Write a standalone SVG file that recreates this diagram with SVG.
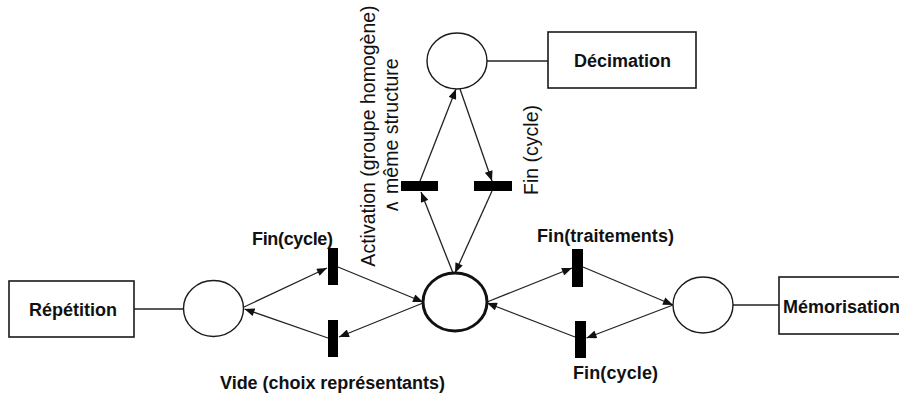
<svg xmlns="http://www.w3.org/2000/svg" width="899" height="396" viewBox="0 0 899 396">
<style>
.place{fill:#fff;stroke:#1a1a1a;stroke-width:1.4}
.main{fill:#fff;stroke:#111;stroke-width:3}
.box{fill:#fff;stroke:#1a1a1a;stroke-width:1.6}
.tr{fill:#000}
.lbl{font-family:"Liberation Sans",Arial,sans-serif;font-weight:bold;font-size:18px;fill:#111}
.rot{font-family:"Liberation Sans",Arial,"DejaVu Sans",sans-serif;font-size:19.5px;fill:#111}
.arc{stroke:#222;stroke-width:1.3;fill:none;marker-end:url(#ah)}
.link{stroke:#222;stroke-width:1.3;fill:none}
</style>
<defs>
<marker id="ah" viewBox="0 0 10 8" refX="10" refY="4" markerWidth="11" markerHeight="8" markerUnits="userSpaceOnUse" orient="auto">
<path d="M0,0 L10,4 L0,8 z" fill="#111"/>
</marker>
</defs>
<rect width="899" height="396" fill="#fff"/>

<g id="connectors">
<line class="link" x1="134" y1="309" x2="183.5" y2="309"/>
<line class="link" x1="487" y1="61" x2="548" y2="61"/>
<line class="link" x1="733" y1="305" x2="779" y2="305"/>
<line class="arc" x1="453" y1="273" x2="421" y2="192"/>
<line class="arc" x1="420" y1="181" x2="456" y2="89"/>
<line class="arc" x1="460" y1="89" x2="492" y2="181"/>
<line class="arc" x1="492" y1="191" x2="455" y2="273"/>
<line class="arc" x1="244" y1="307" x2="327" y2="268"/>
<line class="arc" x1="338" y1="267" x2="423" y2="302"/>
<line class="arc" x1="423" y1="303" x2="339" y2="337"/>
<line class="arc" x1="328" y1="338" x2="244.5" y2="309"/>
<line class="arc" x1="487" y1="302" x2="572" y2="268"/>
<line class="arc" x1="583" y1="267" x2="673" y2="305"/>
<line class="arc" x1="673" y1="305" x2="586.5" y2="338"/>
<line class="arc" x1="575" y1="337" x2="487" y2="303"/>
</g>

<g id="repetition"><rect class="box" x="9" y="281" width="125" height="56"/><text class="lbl" x="73" y="316" text-anchor="middle" textLength="88">Répétition</text></g>
<g id="decimation"><rect class="box" x="548" y="32" width="148" height="56"/><text class="lbl" x="622.5" y="67" text-anchor="middle" textLength="97">Décimation</text></g>
<g id="memorisation"><rect class="box" x="779" y="277" width="140" height="57"/><text class="lbl" x="783" y="313">Mémorisation</text></g>

<g id="p-left"><ellipse class="place" cx="213.5" cy="308.5" rx="30" ry="28"/></g>
<g id="p-top"><ellipse class="place" cx="457" cy="61" rx="30" ry="28"/></g>
<g id="p-center"><ellipse class="main" cx="455" cy="302" rx="32" ry="29"/></g>
<g id="p-right"><ellipse class="place" cx="703" cy="305" rx="30" ry="28"/></g>

<g id="t-activation"><rect class="tr" x="401" y="181" width="37" height="10"/>
<text class="rot" transform="translate(375,136) rotate(-90)" text-anchor="middle">Activation (groupe homogène)</text>
<text class="rot" transform="translate(398,136) rotate(-90)" text-anchor="middle">∧ même structure</text></g>
<g id="t-fin-top"><rect class="tr" x="474" y="181" width="38" height="10"/>
<text class="rot" transform="translate(538,150) rotate(-90)" text-anchor="middle">Fin (cycle)</text></g>
<g id="t-fin-left"><rect class="tr" x="328" y="248" width="10" height="37"/><text class="lbl" x="252" y="245" textLength="81">Fin(cycle)</text></g>
<g id="t-vide"><rect class="tr" x="328" y="320" width="10" height="37"/><text class="lbl" x="220" y="389" textLength="225">Vide (choix représentants)</text></g>
<g id="t-traitements"><rect class="tr" x="572" y="249" width="11" height="38"/><text class="lbl" x="537" y="242" textLength="137">Fin(traitements)</text></g>
<g id="t-fin-right"><rect class="tr" x="575" y="321" width="11" height="37"/><text class="lbl" x="573" y="379" textLength="85">Fin(cycle)</text></g>
</svg>
